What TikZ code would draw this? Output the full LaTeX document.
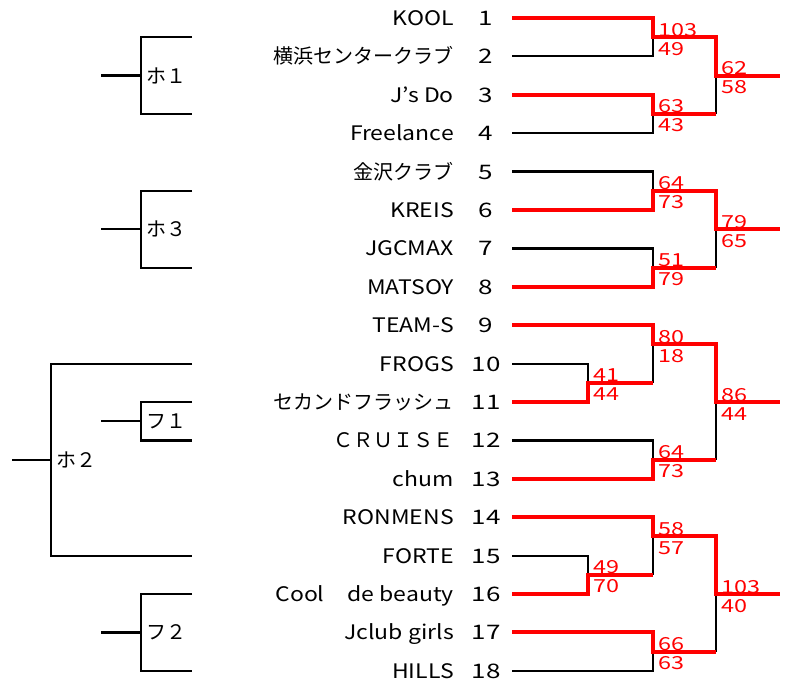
\documentclass[tikz,border=0pt]{standalone}
\usepackage{fontspec}
\setmainfont{Noto Sans CJK JP}
\newfontfamily\latin[FakeStretch=1.15]{Noto Sans CJK JP}
\newfontfamily\digits[FakeStretch=1.3]{Noto Sans CJK JP}

\newcommand*{\xa}{512}
\newcommand*{\xb}{588}
\newcommand*{\xc}{653}
\newcommand*{\xd}{716}
\newcommand*{\xe}{780}

\begin{document}
\begin{tikzpicture}
[
	x=1pt, y=-1pt,
	win/.style={red, line width=4pt},
	lose/.style={black, line width=2.2pt},
	team/.style={anchor=base east, inner sep=0pt, font=\fontsize{20}{24}\latin},
	seed/.style={anchor=base, inner sep=0pt, font=\fontsize{20}{24}\digits},
	score/.style={anchor=base west, inner sep=0pt, red, font=\fontsize{18}{22}\digits},
	hi/.style={score, xshift=5pt, yshift=1pt},
	lo/.style={score, xshift=5pt, yshift=-18pt},
	block/.style={anchor=base west, inner sep=0pt, font=\fontsize{20}{24}\selectfont}
]
	\useasboundingbox (0,0) rectangle (795,687);

	% teams
	\foreach \i/\name in {1/KOOL, 2/\rmfamily 横浜センタークラブ, 3/J’s Do, 4/Freelance,
		5/\rmfamily 金沢クラブ, 6/KREIS, 7/JGCMAX, 8/MATSOY, 9/TEAM-S, 10/FROGS,
		11/\rmfamily セカンドフラッシュ, 12/\rmfamily ＣＲＵＩＳＥ, 13/chum, 14/RONMENS,
		15/FORTE, 16/Cool　de beauty, 17/Jclub girls, 18/HILLS}
	{
		\node[team] (t\i) at (454, {18+(\i-1)*38.4+7.5}) {\name};
		\node[seed] (n\i) at (486, {18+(\i-1)*38.4+7.5}) {\i};
		\coordinate (r\i) at (\xa, {18+(\i-1)*38.4});
	}

	% joins
	\coordinate (right) at (\xe,0);
	\coordinate (a) at (\xc,37.2);
	\coordinate (b) at (\xc,114);
	\coordinate (ab) at (\xd,75.6);
	\coordinate (c) at (\xc,190.8);
	\coordinate (d) at (\xc,267.6);
	\coordinate (cd) at (\xd,229.2);
	\coordinate (e) at (\xb,382.8);
	\coordinate (f) at (\xc,344.4);
	\coordinate (g) at (\xc,459.6);
	\coordinate (fg) at (\xd,402);
	\coordinate (h) at (\xb,574.8);
	\coordinate (i) at (\xc,536.4);
	\coordinate (j) at (\xc,651.6);
	\coordinate (ij) at (\xd,594);

	% block 1-4
	\draw[lose] (r2) -| (a);
	\draw[lose] (r4) -| (b);
	\draw[lose] (b -| ab) -- (ab);
	\draw[win] (r3) -| (b) -- (b -| ab);
	\draw[win] (r1) -| (a) -- (a -| ab) -- (ab) -- (ab -| right);

	% block 5-8
	\draw[lose] (r5) -| (c);
	\draw[lose] (r7) -| (d);
	\draw[lose] (d -| cd) -- (cd);
	\draw[win] (r8) -| (d) -- (d -| cd);
	\draw[win] (r6) -| (c) -- (c -| cd) -- (cd) -- (cd -| right);

	% block 9-13
	\draw[lose] (r10) -| (e);
	\draw[lose] (e -| f) -- (f);
	\draw[lose] (r12) -| (g);
	\draw[lose] (g -| fg) -- (fg);
	\draw[win] (r11) -| (e) -- (e -| f);
	\draw[win] (r13) -| (g) -- (g -| fg);
	\draw[win] (r9) -| (f) -- (f -| fg) -- (fg) -- (fg -| right);

	% block 14-18
	\draw[lose] (r15) -| (h);
	\draw[lose] (h -| i) -- (i);
	\draw[lose] (r18) -| (j);
	\draw[lose] (j -| ij) -- (ij);
	\draw[win] (r16) -| (h) -- (h -| i);
	\draw[win] (r17) -| (j) -- (j -| ij);
	\draw[win] (r14) -| (i) -- (i -| ij) -- (ij) -- (ij -| right);

	% scores
	\foreach \m/\p/\q in {a/103/49, b/63/43, ab/62/58, c/64/73, d/51/79, cd/79/65,
		e/41/44, f/80/18, g/64/73, fg/86/44, h/49/70, i/58/57, j/66/63, ij/103/40}
	{
		\node[hi] (\m-hi) at (\m) {\p};
		\node[lo] (\m-lo) at (\m) {\q};
	}

	% groups on the left
	\foreach \lbl/\x/\s/\t/\u/\b [count=\k] in {ホ１/141/101/37.2/75.6/114,
		ホ３/141/101/190.8/229.2/267.6, ホ２/51/12/363.6/459.6/555.6,
		フ１/141/101/402/421.2/440.4, フ２/141/101/594/632.4/670.8}
	{
		\draw[lose] (192,\t) -| (\x,\b) -- (192,\b);
		\draw[lose] (\s,\u) -- (\x,\u);
		\node[block] (g\k) at (\x+5, \u+7.5) {\lbl};
	}

\end{tikzpicture}
\end{document}
